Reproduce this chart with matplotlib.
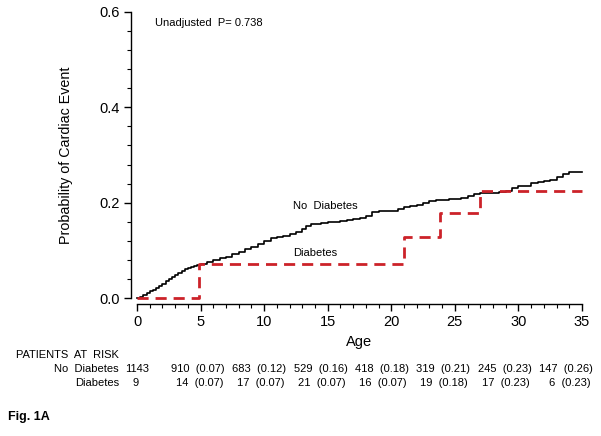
import matplotlib

matplotlib.use("Agg")
import matplotlib.pyplot as plt
from matplotlib.ticker import MultipleLocator, FormatStrFormatter

plt.rcParams["font.family"] = ["Liberation Sans", "DejaVu Sans"]

# Kaplan-Meier style curves
no_dm_t = [0, 0.25, 0.5, 0.75, 1.0, 1.25, 1.5, 1.75, 2.0, 2.25, 2.5, 2.75,
           3.0, 3.25, 3.5, 3.75, 4.0, 4.25, 4.5, 4.75, 5.0, 5.5, 6.0, 6.5,
           7.0, 7.5, 8.0, 8.5, 9.0, 9.5, 10.0, 10.5, 11.0, 11.5, 12.0, 12.5,
           13.0, 13.3, 13.7, 14.0, 14.5, 15.0, 15.5, 16.0, 16.5, 17.0, 17.5,
           18.0, 18.5, 19.0, 19.5, 20.0, 20.5, 21.0, 21.5, 22.0, 22.5, 23.0,
           23.5, 24.0, 24.5, 25.0, 25.5, 26.0, 26.5, 27.0, 27.5, 28.0, 28.5,
           29.0, 29.5, 30.0, 30.5, 31.0, 31.5, 32.0, 32.5, 33.0, 33.5, 34.0,
           35.0]
no_dm_p = [0, 0.003, 0.007, 0.011, 0.014, 0.017, 0.021, 0.026, 0.030, 0.035,
           0.039, 0.044, 0.048, 0.052, 0.056, 0.060, 0.063, 0.066, 0.068,
           0.070, 0.072, 0.076, 0.079, 0.083, 0.087, 0.092, 0.097, 0.102,
           0.107, 0.114, 0.120, 0.125, 0.128, 0.131, 0.134, 0.138, 0.145,
           0.152, 0.155, 0.156, 0.158, 0.159, 0.160, 0.162, 0.164, 0.165,
           0.167, 0.172, 0.180, 0.182, 0.183, 0.183, 0.186, 0.190, 0.193,
           0.195, 0.199, 0.203, 0.205, 0.206, 0.207, 0.208, 0.209, 0.213,
           0.219, 0.221, 0.221, 0.221, 0.222, 0.224, 0.231, 0.234, 0.236,
           0.241, 0.243, 0.245, 0.247, 0.254, 0.260, 0.264, 0.264]

dm_t = [0, 4.9, 21.0, 23.8, 27.0, 35.0]
dm_p = [0, 0.071, 0.127, 0.178, 0.225, 0.225]

risk_no_dm = ["1143", "910  (0.07)", "683  (0.12)", "529  (0.16)", "418  (0.18)",
              "319  (0.21)", "245  (0.23)", "147  (0.26)"]
risk_dm = ["9", "14  (0.07)", "17  (0.07)", "21  (0.07)", "16  (0.07)",
           "19  (0.18)", "17  (0.23)", "6  (0.23)"]

W, H = 601, 436
fig = plt.figure(figsize=(W / 100, H / 100), dpi=100)
ax = fig.add_axes([137 / W, 1 - 298 / H, (582 - 137) / W, (298 - 12) / H])

ax.step(no_dm_t, no_dm_p, where="post", color="black", lw=1.2, clip_on=False)
ax.step(dm_t, dm_p, where="post", color="#cc2229", lw=2.0,
        dashes=(4, 2.5), clip_on=False)

ax.set_xlim(0, 35)
ax.set_ylim(0, 0.6)
for s in ("top", "right"):
    ax.spines[s].set_visible(False)
for s in ("left", "bottom"):
    ax.spines[s].set_position(("outward", 4))
    ax.spines[s].set_linewidth(1.0)

ax.xaxis.set_major_locator(MultipleLocator(5))
ax.xaxis.set_minor_locator(MultipleLocator(1))
ax.yaxis.set_major_locator(MultipleLocator(0.2))
ax.yaxis.set_minor_locator(MultipleLocator(0.04))
ax.yaxis.set_major_formatter(FormatStrFormatter("%.1f"))
ax.tick_params(which="major", length=5, width=1.0, labelsize=10.5)
ax.tick_params(which="minor", length=3, width=0.8)

ax.set_xlabel("Age", fontsize=10.5, labelpad=4)
ax.set_ylabel("Probability of Cardiac Event", fontsize=10.3, labelpad=19)

ax.text(1.4, 0.577, "Unadjusted  P= 0.738", fontsize=8, va="center")
ax.text(12.3, 0.192, "No  Diabetes", fontsize=8, va="center")
ax.text(12.3, 0.094, "Diabetes", fontsize=8, va="center")

# patients at risk table
fs = 8
fig.text(16 / W, 1 - 355 / H, "PATIENTS  AT  RISK", fontsize=fs, va="center")
fig.text(119 / W, 1 - 369 / H, "No  Diabetes", fontsize=fs, va="center", ha="right")
fig.text(119 / W, 1 - 383 / H, "Diabetes", fontsize=fs, va="center", ha="right")
fig.text(137.5 / W, 1 - 369 / H, risk_no_dm[0], fontsize=fs, va="center", ha="center")
fig.text(136 / W, 1 - 383 / H, risk_dm[0], fontsize=fs, va="center", ha="center")
for k in range(1, len(risk_no_dm)):
    xr = 225 + 61.3 * (k - 1)
    fig.text(xr / W, 1 - 369 / H, risk_no_dm[k], fontsize=fs, va="center", ha="right")
    fig.text((xr - 2) / W, 1 - 383 / H, risk_dm[k], fontsize=fs, va="center", ha="right")

fig.text(8 / W, 1 - 417 / H, "Fig. 1A", fontsize=9, fontweight="bold", va="center")

fig.savefig("out.png", dpi=100)
